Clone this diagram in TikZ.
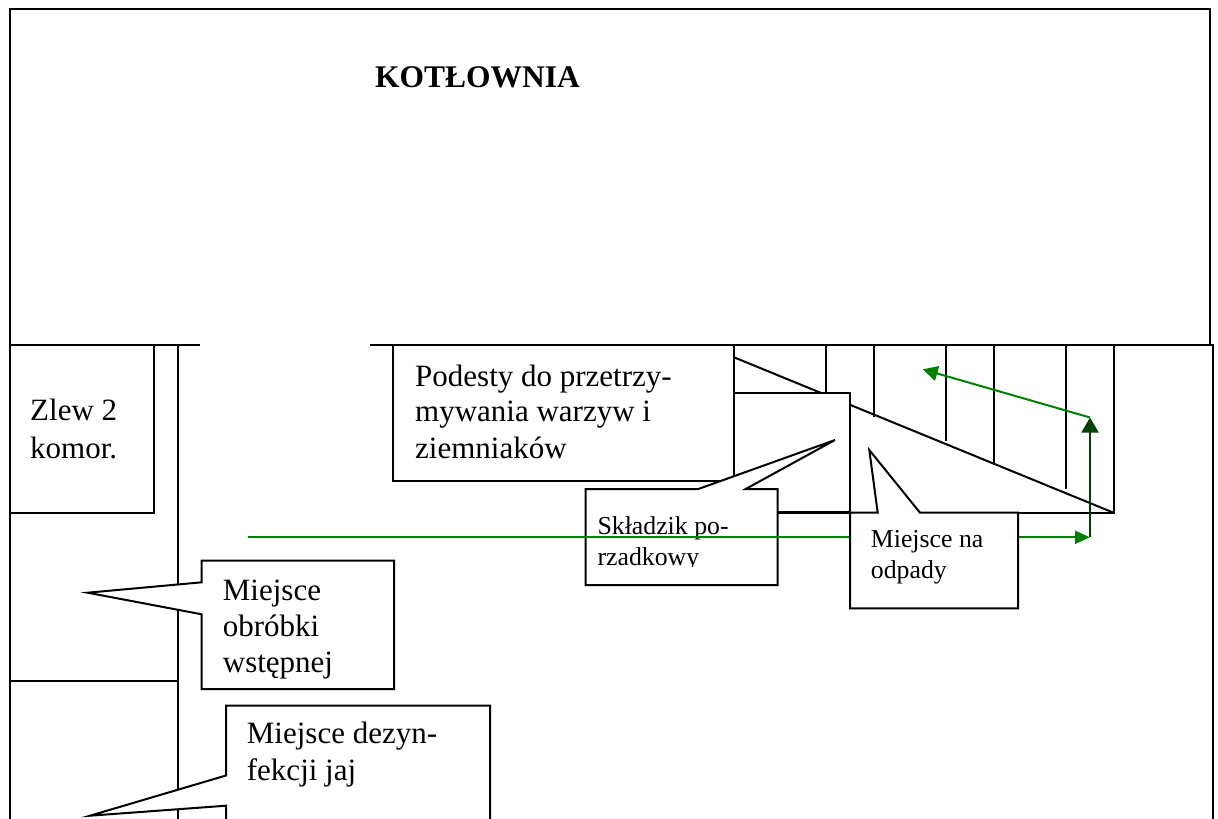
\documentclass[tikz,border=0pt]{standalone}
\usepackage{fontspec}
\setmainfont{Liberation Serif}
\usetikzlibrary{arrows.meta}
\definecolor{grn}{RGB}{0,128,0}
\definecolor{dgrn}{RGB}{0,64,0}
\begin{document}
\begin{tikzpicture}[x=1pt,y=-1pt,
  wall/.style={line width=2pt},
  boxed/.style={draw,fill=white,line width=2pt,line join=miter},
  bigtxt/.style={inner sep=0pt,anchor=base west,font=\fontsize{31}{36}\selectfont},
  smalltxt/.style={inner sep=0pt,anchor=base west,font=\fontsize{25.8}{31}\selectfont},
  flow/.style={grn,line width=2pt},
  dflow/.style={dgrn,line width=2pt}]
\clip (0,0) rectangle (1218,819);
\fill[white] (0,0) rectangle (1218,819);
% walls
\draw[wall] (10,819) -- (10,9.3) -- (1209.5,9.3) -- (1209.5,345);
\draw[wall] (10,345) -- (200,345);
\draw[wall] (370,345) -- (1213,345) -- (1213,819);
\node[inner sep=0pt,anchor=base west,font=\fontsize{31.5}{36}\selectfont\bfseries] (kot) at (375,87) {KOTŁOWNIA};
% stairs
\draw[wall] (1114.3,345) -- (1114.3,512.7) -- (734,512.7);
\draw[wall] (734,357.3) -- (1113.5,512.7);
\draw[wall] (826,345) -- (826,395);
\draw[wall] (874.3,345) -- (874.3,417);
\draw[wall] (946,345) -- (946,441);
\draw[wall] (994,345) -- (994,465);
\draw[wall] (1066,345) -- (1066,489.3);
\draw[boxed] (730,392.7) rectangle (850,512.3);
% Podesty
\draw[boxed] (393.3,345) rectangle (734,480.7);
\node[bigtxt] (pod1) at (415,386.7) {Podesty do przetrzy-};
\node[bigtxt] (pod2) at (415,421.5) {mywania warzyw i};
\node[bigtxt] (pod3) at (415,458.3) {ziemniaków};
% Skladzik callout
\draw[boxed] (585.7,489) -- (698.3,489) -- (835,440) -- (745.7,489) -- (777.7,489)
  -- (777.7,585) -- (585.7,585) -- cycle;
\begin{scope}
\clip (585.7,489) rectangle (777.7,566.5);
\node[smalltxt] (skl1) at (597.3,534) {Składzik po-};
\node[smalltxt] (skl2) at (597.3,565) {rzadkowy};
\end{scope}
% green horizontal flow
\coordinate (gs) at (248,537.3);
\coordinate (gc) at (1090,537.3);
\coordinate (gt) at (1090,417.5);
\coordinate (ge) at (922.7,369.3);
\draw[flow,-{Triangle[length=15pt,width=13pt]}] (gs) -- (gc);
% odpady callout
\draw[boxed] (850,512.7) -- (877.7,512.7) -- (869.3,450) -- (920,512.7) -- (1018,512.7)
  -- (1018,608.3) -- (850,608.3) -- cycle;
\node[smalltxt] (odp1) at (870.7,547) {Miejsce na};
\node[smalltxt] (odp2) at (870.7,578) {odpady};
% green vertical + diagonal
\draw[dflow,-{Triangle[length=15pt,width=17pt]}] (gc) -- (gt);
\draw[flow,-{Triangle[length=15pt,width=15pt]}] (gt) -- (ge);
% left column
\draw[wall] (177.7,345) -- (177.7,819);
\draw[wall] (10,681) -- (177.7,681);
\draw[boxed] (10,345) rectangle (154,512.7);
\node[bigtxt] (zl1) at (30,420.7) {Zlew 2};
\node[bigtxt] (zl2) at (30,458.3) {komor.};
% obrobki callout
\draw[boxed] (201.7,560.7) -- (394,560.7) -- (394,689) -- (201.7,689) -- (201.7,614.3)
  -- (87.7,592.7) -- (201.7,582.3) -- cycle;
\node[bigtxt] (obr1) at (222.7,600) {Miejsce};
\node[bigtxt] (obr2) at (222.7,636.7) {obróbki};
\node[bigtxt] (obr3) at (222.7,672.7) {wstępnej};
% dezynfekcji callout
\draw[boxed] (226,705.7) -- (490,705.7) -- (490,840) -- (226,840) -- (226,805.7)
  -- (90,815.7) -- (226,775.5) -- cycle;
\node[bigtxt] (dez1) at (246.7,743.5) {Miejsce dezyn-};
\node[bigtxt] (dez2) at (246.7,780.5) {fekcji jaj};
\end{tikzpicture}
\end{document}
